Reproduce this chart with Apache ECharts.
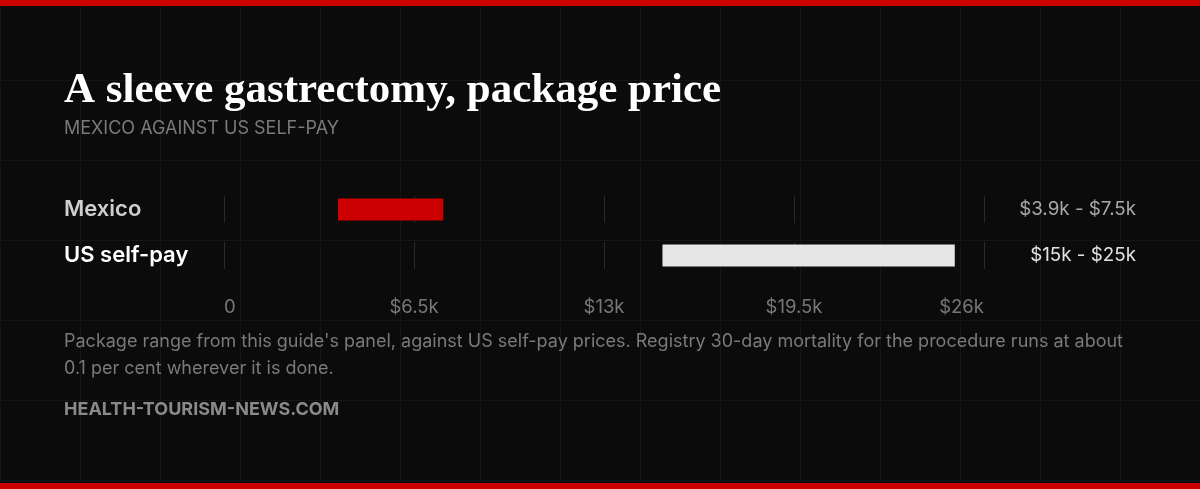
<!DOCTYPE html>
<html lang="en">
<head>
    <meta charset="utf-8">
    <script src="https://cdn.jsdelivr.net/npm/echarts@6/dist/echarts.min.js"></script>
    <style>
        html, body { margin: 0; padding: 0; background: #0b0b0b; }
        #wrap {
            position: relative; width: 1200px; height: 489px;
            background-color: #0b0b0b;
            background-image:
                linear-gradient(to right, #151515 1px, transparent 1px),
                linear-gradient(to bottom, #151515 1px, transparent 1px);
            background-size: 80px 80px;
            background-position: 0 0;
        }
        .redbar { position: absolute; left: 0; width: 1200px; height: 6px; background: #cc0000; }
    </style>
</head>
<body>
<div id="wrap">
    <div class="redbar" style="top:0"></div>
    <div id="main" style="position:absolute;left:0;top:0;width:1200px;height:489px;"></div>
    <div class="redbar" style="bottom:0"></div>
</div>
<script type="text/javascript">
    // data
    var categories = ['Mexico', 'US self-pay'];
    var lowPrice = [3900, 15000];
    var highPrice = [7500, 25000];
    var tickValues = [0, 6500, 13000, 19500, 26000];
    var barColors = ['#cc0000', '#e6e6e6'];

    function kfmt(v) {
        return v === 0 ? '0' : '$' + (v / 1000) + 'k';
    }

    var sans = 'Inter, "Noto Sans", sans-serif';
    var rowTops = [196, 242];
    var grids = [], xAxes = [], yAxes = [], series = [];

    categories.forEach(function (name, i) {
        grids.push({ left: 224, right: 216, top: rowTops[i], height: 27 });
        xAxes.push({
            gridIndex: i, type: 'value',
            min: tickValues[0], max: tickValues[tickValues.length - 1],
            interval: tickValues[1] - tickValues[0],
            axisLine: { show: false }, axisTick: { show: false },
            splitLine: { show: true, lineStyle: { color: '#2a2a2a', width: 1 } },
            axisLabel: {
                show: i === categories.length - 1,
                margin: 29, color: '#777', fontSize: 18.5, fontFamily: sans,
                alignMinLabel: 'left', alignMaxLabel: 'right',
                formatter: kfmt
            }
        });
        // category name on the left
        yAxes.push({
            gridIndex: i, type: 'category', data: [name],
            axisLine: { show: false }, axisTick: { show: false },
            axisLabel: {
                align: 'left', margin: 160,
                fontSize: 22, fontWeight: 600, fontFamily: sans,
                color: i === 1 ? '#ffffff' : '#cfcfcf'
            }
        });
        // range text on the right
        yAxes.push({
            gridIndex: i, type: 'category', position: 'right',
            data: [kfmt(lowPrice[i]) + ' - ' + kfmt(highPrice[i])],
            axisLine: { show: false }, axisTick: { show: false },
            axisLabel: {
                align: 'right', margin: 152,
                fontSize: 18.8, fontFamily: sans,
                color: i === 1 ? '#e2e2e2' : '#a8a8a8'
            }
        });
        series.push({
            type: 'bar', xAxisIndex: i, yAxisIndex: i * 2, stack: 'r' + i,
            data: [lowPrice[i]], barWidth: 22, silent: true,
            itemStyle: { color: 'transparent' }
        });
        series.push({
            type: 'bar', xAxisIndex: i, yAxisIndex: i * 2, stack: 'r' + i,
            data: [highPrice[i] - lowPrice[i]], barWidth: 22, silent: true,
            itemStyle: { color: barColors[i] }
        });
    });

    var myChart = echarts.init(document.getElementById('main'), null, { renderer: 'canvas' });
    var option = {
        backgroundColor: 'transparent',
        animation: false,
        title: [{
            text: 'A sleeve gastrectomy, package price',
            left: 64, top: 69, padding: 0,
            textStyle: { color: '#ffffff', fontSize: 43, fontWeight: 'bold', fontFamily: '"Liberation Serif", "DejaVu Serif", serif' }
        }, {
            text: 'MEXICO AGAINST US SELF-PAY',
            left: 64, top: 120, padding: 0,
            textStyle: { color: '#7a7a7a', fontSize: 18, fontWeight: 'normal', fontFamily: sans }
        }, {
            text: "Package range from this guide's panel, against US self-pay prices. Registry 30-day mortality for the procedure runs at about\n0.1 per cent wherever it is done.",
            left: 64, top: 328, padding: 0,
            textStyle: { color: '#7a7a7a', fontSize: 18, fontWeight: 'normal', lineHeight: 27, fontFamily: sans }
        }, {
            text: 'HEALTH-TOURISM-NEWS.COM',
            left: 64, top: 401, padding: 0,
            textStyle: { color: '#8a8a8a', fontSize: 18, fontWeight: 'bold', fontFamily: sans }
        }],
        grid: grids,
        xAxis: xAxes,
        yAxis: yAxes,
        series: series
    };
    myChart.setOption(option);
</script>
</body>
</html>
